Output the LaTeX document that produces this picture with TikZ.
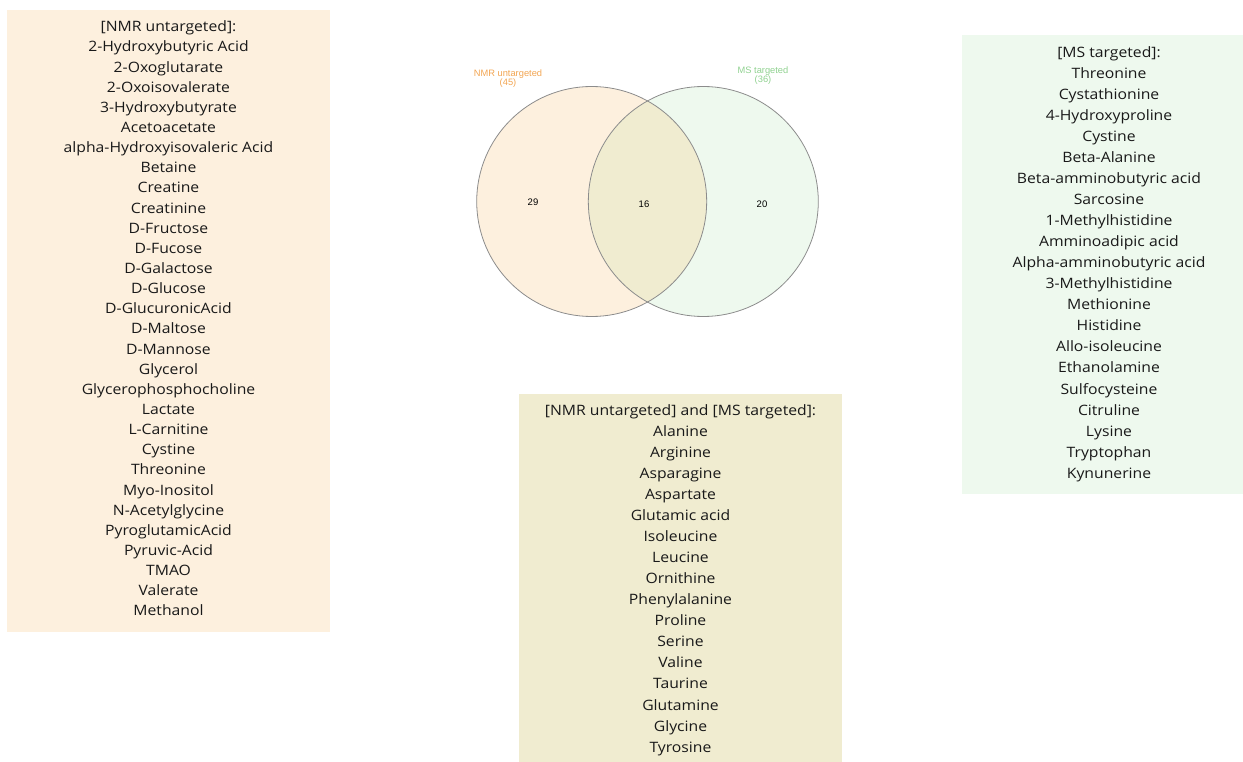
\documentclass[tikz,border=0pt]{standalone}
\usepackage{fontspec}
\setmainfont{Open Sans}[Ligatures={NoCommon}, FakeStretch=1.1]
\newfontfamily\arialfont{Liberation Sans}
\definecolor{nmrfill}{HTML}{FDF0DE}
\definecolor{msfill}{HTML}{EEF9EE}
\definecolor{bothfill}{HTML}{F0ECD0}
\definecolor{vennline}{HTML}{8C8C8C}
\definecolor{nmrlab}{HTML}{F2A552}
\definecolor{mslab}{HTML}{8FD18F}
\tikzset{
  listbox/.style={draw=none, rectangle, inner sep=0, anchor=north west},
  listtext/.style={inner sep=0, align=center, text=black!90, font=\fontsize{14.3}{20.14}\selectfont},
  listtextb/.style={inner sep=0, align=center, text=black!90, font=\fontsize{14.3}{21.05}\selectfont},
  vennlab/.style={inner sep=0, align=center, font=\arialfont\fontsize{9.3}{9.8}\selectfont},
  vennnum/.style={inner sep=0, font=\arialfont\fontsize{9.5}{11}\selectfont},
  venncirc/.style={draw=vennline, line width=0.8pt},
}
\begin{document}
\begin{tikzpicture}[x=1pt,y=-1pt]
\useasboundingbox (0,0) rectangle (1243,762);
% boxes
\node[listbox, fill=nmrfill, minimum width=323, minimum height=622] (nmrbox) at (7,10) {};
\node[listbox, fill=msfill, minimum width=281, minimum height=459] (msbox) at (962,35) {};
\node[listbox, fill=bothfill, minimum width=323, minimum height=368] (bothbox) at (519,394) {};
% lists
\node[listtext] (nmrlist) at (168.5,318.5) {[NMR untargeted]:\\2-Hydroxybutyric Acid\\2-Oxoglutarate\\2-Oxoisovalerate\\3-Hydroxybutyrate\\Acetoacetate\\alpha-Hydroxyisovaleric Acid\\Betaine\\Creatine\\Creatinine\\D-Fructose\\D-Fucose\\D-Galactose\\D-Glucose\\D-GlucuronicAcid\\D-Maltose\\D-Mannose\\Glycerol\\Glycerophosphocholine\\Lactate\\L-Carnitine\\Cystine\\Threonine\\Myo-Inositol\\N-Acetylglycine\\PyroglutamicAcid\\Pyruvic-Acid\\TMAO\\Valerate\\Methanol};
\node[listtextb] (mslist) at (1109,264) {[MS targeted]:\\Threonine\\Cystathionine\\4-Hydroxyproline\\Cystine\\Beta-Alanine\\Beta-amminobutyric acid\\Sarcosine\\1-Methylhistidine\\Amminoadipic acid\\Alpha-amminobutyric acid\\3-Methylhistidine\\Methionine\\Histidine\\Allo-isoleucine\\Ethanolamine\\Sulfocysteine\\Citruline\\Lysine\\Tryptophan\\Kynunerine};
\node[listtextb] (bothlist) at (680.5,580) {[NMR untargeted] and [MS targeted]:\\Alanine\\Arginine\\Asparagine\\Aspartate\\Glutamic acid\\Isoleucine\\Leucine\\Ornithine\\Phenylalanine\\Proline\\Serine\\Valine\\Taurine\\Glutamine\\Glycine\\Tyrosine};
% venn
\coordinate (cl) at (591.7,201.5);
\coordinate (cr) at (703.3,201.5);
\fill[nmrfill] (cl) circle [radius=115];
\fill[msfill] (cr) circle [radius=115];
\begin{scope}
  \clip (cl) circle [radius=115];
  \fill[bothfill] (cr) circle [radius=115];
\end{scope}
\node[venncirc, circle, minimum size=230, inner sep=0] (nmrcirc) at (cl) {};
\node[venncirc, circle, minimum size=230, inner sep=0] (mscirc) at (cr) {};
\node[vennlab, text=nmrlab] (nmrlab) at (508,78.5) {NMR untargeted\\(45)};
\node[vennlab, text=mslab] (mslab) at (763,75.5) {MS targeted\\(36)};
\node[vennnum] (n29) at (533,202) {29};
\node[vennnum] (n16) at (644,204) {16};
\node[vennnum] (n20) at (762,204) {20};
\end{tikzpicture}
\end{document}
